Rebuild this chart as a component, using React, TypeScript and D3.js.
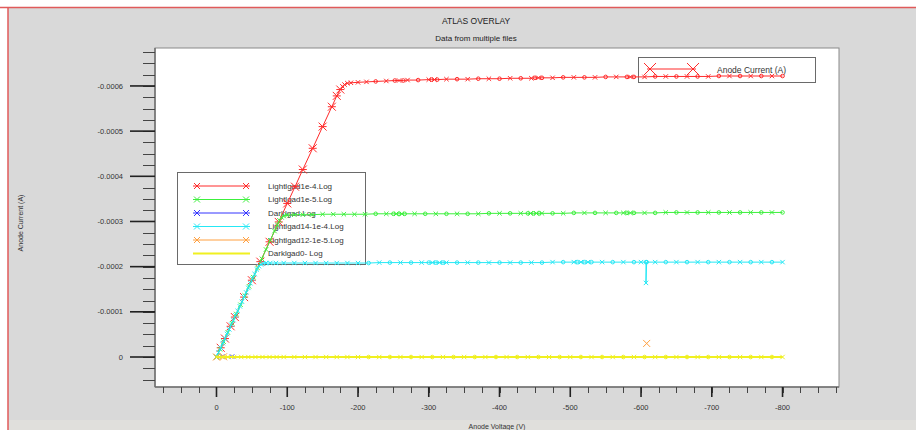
import React from 'react';
import * as d3 from 'd3';

const W = 916;
const H = 430;

// ---- data (Anode Voltage V, Anode Current A) ----
const redV = [0,-6,-12,-20,-26,-39,-50,-62,-75,-88,-100,-111,-122,-136,-150,-163,-170,-175,-178,-181,-185,-190,-200,-212,-225,-240,-252,-258,-264,-270,-285,-300,-304,-308,-312,-325,-340,-355,-370,-385,-400,-415,-430,-445,-450,-455,-460,-475,-490,-505,-520,-535,-550,-565,-580,-585,-590,-605,-620,-635,-650,-665,-680,-695,-710,-725,-740,-755,-770,-785,-800];
const redI = [0,-0.0000204,-0.0000408,-0.000068,-0.0000884,-0.0001326,-0.00017,-0.000211,-0.000255,-0.000299,
  -0.00034,-0.000377,-0.000415,-0.000462,-0.00051,-0.000554,-0.000578,-0.000592,-0.000599,-0.000603,
  -0.000606,-0.000607,-0.000608,-0.000609,-0.00061,-0.000611,-0.000612,-0.000612,-0.000612,-0.000613,
  -0.000613,-0.000614,-0.000614,-0.000614,-0.000614,-0.000615,-0.000615,-0.000615,-0.000616,-0.000616,
  -0.000616,-0.000617,-0.000617,-0.000617,-0.000618,-0.000618,-0.000618,-0.000618,-0.000619,-0.000619,
  -0.000619,-0.000619,-0.00062,-0.00062,-0.00062,-0.00062,-0.00062,-0.00062,-0.000621,-0.000621,
  -0.000621,-0.000621,-0.000621,-0.000621,-0.000622,-0.000622,-0.000622,-0.000622,-0.000622,-0.000622,
  -0.000622];

const greenV = [0,-5,-10,-16,-22,-28,-34,-40,-46,-52,-58,-64,-70,-76,-82,-86,-89,-92,-95,-100,-110,-122,-135,-150,-165,-180,-195,-210,-225,-240,-250,-254,-258,-262,-266,-280,-295,-310,-325,-340,-355,-370,-385,-400,-415,-430,-440,-444,-448,-452,-456,-460,-475,-490,-505,-520,-535,-550,-565,-575,-580,-585,-590,-605,-620,-635,-650,-665,-680,-695,-710,-725,-740,-755,-770,-785,-800];
const greenI = [0,-0.000017,-0.000034,-0.0000544,-0.0000748,-0.0000952,-0.0001156,-0.000136,-0.0001564,-0.0001768,
  -0.0001972,-0.0002176,-0.000238,-0.0002584,-0.0002788,-0.0002924,-0.0003026,-0.000309,-0.000312,-0.000314,
  -0.000315,-0.000315,-0.000315,-0.000316,-0.000316,-0.000316,-0.000316,-0.000316,-0.000317,-0.000317,
  -0.000317,-0.000317,-0.000317,-0.000317,-0.000317,-0.000317,-0.000317,-0.000317,-0.000317,-0.000317,
  -0.000317,-0.000317,-0.000318,-0.000318,-0.000318,-0.000318,-0.000318,-0.000318,-0.000318,-0.000318,
  -0.000318,-0.000318,-0.000318,-0.000318,-0.000319,-0.000319,-0.000319,-0.000319,-0.000319,-0.000319,
  -0.000319,-0.000319,-0.000319,-0.000319,-0.000319,-0.00032,-0.00032,-0.00032,-0.00032,-0.00032,
  -0.00032,-0.00032,-0.00032,-0.00032,-0.00032,-0.00032,-0.00032];

const blueV = [0,-8,-22];
const blueI = [0,-0.000001,-0.000001];

const cyanV = [0,-3,-6,-9,-12,-15,-18,-21,-24,-27,-30,-33,-36,-39,-42,-45,-48,-51,-54,-57,-60,-63,-66,-70,-76,-84,-95,-110,-125,-140,-155,-170,-185,-200,-215,-230,-245,-260,-275,-290,-300,-305,-310,-315,-320,-325,-340,-355,-370,-385,-400,-415,-430,-445,-460,-475,-490,-505,-510,-515,-520,-525,-530,-545,-560,-575,-590,-600,-607,-607,-608,-620,-635,-650,-665,-680,-695,-710,-725,-740,-755,-770,-785,-800];
const cyanI = [0,-0.0000102,-0.0000204,-0.0000306,-0.0000408,-0.000051,-0.0000612,-0.0000714,-0.0000816,-0.0000918,
  -0.000102,-0.0001122,-0.0001224,-0.0001326,-0.0001428,-0.000153,-0.0001632,-0.0001734,-0.0001836,-0.0001938,
  -0.000201,-0.000205,-0.000207,-0.000208,-0.000208,-0.000208,-0.000208,-0.000208,-0.000208,-0.000208,
  -0.000208,-0.000208,-0.000208,-0.000208,-0.000208,-0.000209,-0.000209,-0.000209,-0.000209,-0.000209,
  -0.000209,-0.000209,-0.000209,-0.000209,-0.000209,-0.000209,-0.000209,-0.000209,-0.000209,-0.000209,
  -0.000209,-0.000209,-0.000209,-0.000209,-0.000209,-0.00021,-0.00021,-0.00021,-0.00021,-0.00021,
  -0.00021,-0.00021,-0.00021,-0.00021,-0.00021,-0.00021,-0.00021,-0.00021,-0.00021,-0.000164,
  -0.00021,-0.00021,-0.00021,-0.00021,-0.00021,-0.00021,-0.00021,-0.00021,-0.00021,-0.00021,
  -0.00021,-0.00021,-0.00021,-0.00021];

const orangeV = [0,-10,null,-608];
const orangeI = [0,-0.0000005,null,-0.00003];

const yellowV = [0,-8,-16,-25,-35,-45,-55,-65,-75,-85,-95,-110,-125,-140,-155,-170,-185,-200,-215,-230,-245,-260,-275,-290,-305,-320,-335,-350,-365,-380,-395,-410,-425,-440,-455,-470,-485,-500,-515,-530,-545,-560,-575,-590,-605,-620,-635,-650,-665,-680,-695,-710,-725,-740,-755,-770,-785,-800];
const yellowI = [0,0,0,0,0,0,0,0,0,0,0,0,0,0,0,0,0,0,0,0,0,0,0,0,0,0,0,0,0,0,0,0,0,0,0,0,0,0,0,0,0,0,0,0,0,0,0,0,0,0,0,0,0,0,0,0,0,0];

const seriesNames = ['Lightlgad1e-4.Log','Lightlgad1e-5.Log','Darklgad.Log','Lightlgad14-1e-4.Log','Lightlgad12-1e-5.Log','Darklgad0- Log'];
const seriesColors = ['#ff2a2a','#3cf03c','#3535ff','#26e8f5','#ffa040','#f0f020'];

const yTickValues = [-0.0006,-0.0005,-0.0004,-0.0003,-0.0002,-0.0001,0];
const yTickLabels = ['-0.0006','-0.0005','-0.0004','-0.0003','-0.0002','-0.0001','0'];
const xTickValues = [0,-100,-200,-300,-400,-500,-600,-700,-800];
const xTickLabels = ['0','-100','-200','-300','-400','-500','-600','-700','-800'];

const FONT = '"Liberation Sans", Arial, sans-serif';

function xMark(cx: number, cy: number, s: number) {
  return `M${cx - s},${cy - s}L${cx + s},${cy + s}M${cx - s},${cy + s}L${cx + s},${cy - s}`;
}
function oMark(cx: number, cy: number, r: number) {
  return `M${cx - r},${cy}a${r},${r} 0 1,0 ${2 * r},0a${r},${r} 0 1,0 ${-2 * r},0`;
}

export default function App() {
  const left = 155, right = 839, top = 48, bottom = 387;
  const x = d3.scaleLinear().domain([86.9, -879.8]).range([left, right]);
  const y = d3.scaleLinear().domain([0.0000664, -0.000684]).range([bottom, top]);

  const raw = [
    [redV, redI], [greenV, greenI], [blueV, blueI], [cyanV, cyanI], [orangeV, orangeI], [yellowV, yellowI],
  ];
  const series = raw.map(([vs, is], k) => ({
    name: seriesNames[k],
    color: seriesColors[k],
    pts: (vs as (number | null)[]).slice(0, Math.min(vs.length, is.length)).map((v, i) => [v, (is as (number | null)[])[i]] as [number | null, number | null]),
  }));

  const line = d3.line<[number | null, number | null]>()
    .defined(d => d[0] != null && d[1] != null)
    .x(d => x(d[0] as number))
    .y(d => y(d[1] as number));

  const yMinor = d3.range(-27, 3).map(k => k * 0.000025).filter(v => y(v) >= top && y(v) <= bottom);
  const xMinor = d3.range(-35, 4).map(k => k * 25).filter(v => x(v) >= left && x(v) <= right + 0.5);

  const legRowY = (i: number) => 186 + i * 13.5;
  const lineW = (k: number) => (k === 5 ? 2 : 1);

  return (
    <svg width={W} height={H} style={{ position: 'absolute', left: 0, top: 0, display: 'block' }} fontFamily={FONT}>
      <rect x={0} y={0} width={W} height={H} fill="#ffffff" />
      <rect x={8} y={8} width={W - 8} height={H - 8} fill="#d9d9d9" />
      <rect x={8} y={420} width={W - 8} height={10} fill="#e0dfdc" />
      <line x1={0} x2={W} y1={7.5} y2={7.5} stroke="#e05a5a" strokeWidth={1.5} />
      <line x1={8} x2={8} y1={7} y2={H} stroke="#e05a5a" strokeWidth={1.5} />

      <text x={476} y={24} textAnchor="middle" fontSize={8.5} fill="#222">ATLAS OVERLAY</text>
      <text x={476} y={41} textAnchor="middle" fontSize={8} fill="#222">Data from multiple files</text>

      {/* plot area */}
      <rect x={left} y={top} width={right - left} height={bottom - top} fill="#ffffff" stroke="#8a8a8a" strokeWidth={1} />
      <line x1={left} x2={left} y1={top} y2={bottom} stroke="#707070" strokeWidth={1.5} />
      <line x1={left} x2={right} y1={bottom} y2={bottom} stroke="#707070" strokeWidth={1.5} />

      {/* y axis ticks */}
      {yMinor.map((v, i) => (
        <line key={'ym' + i} x1={left - 12} x2={left} y1={Math.round(y(v)) + 0.5} y2={Math.round(y(v)) + 0.5} stroke="#444" strokeWidth={1} />
      ))}
      {yTickValues.map((v, i) => (
        <g key={'yt' + i}>
          <line x1={left - 25} x2={left} y1={y(v)} y2={y(v)} stroke="#222" strokeWidth={1.6} />
          <text x={123} y={y(v)} dy="0.35em" textAnchor="end" fontSize={7.5} fill="#333">{yTickLabels[i]}</text>
        </g>
      ))}

      {/* x axis ticks */}
      {xMinor.map((v, i) => (
        <line key={'xm' + i} x1={Math.round(x(v)) + 0.5} x2={Math.round(x(v)) + 0.5} y1={bottom} y2={bottom + 6} stroke="#444" strokeWidth={1} />
      ))}
      {xTickValues.map((v, i) => (
        <g key={'xt' + i}>
          <line x1={x(v)} x2={x(v)} y1={bottom} y2={bottom + 10} stroke="#222" strokeWidth={1.6} />
          <text x={x(v)} y={410} textAnchor="middle" fontSize={7.5} fill="#333">{xTickLabels[i]}</text>
        </g>
      ))}

      <text transform={`translate(23,223) rotate(-90)`} textAnchor="middle" fontSize={7} fill="#333">Anode Current (A)</text>
      <text x={(left + right) / 2} y={429} textAnchor="middle" fontSize={7} fill="#333">Anode Voltage (V)</text>

      {/* legends (drawn under the data) */}
      <rect x={177.5} y={172.5} width={188} height={92} fill="#ffffff" stroke="#6a6a6a" strokeWidth={1} />
      {series.map((s, i) => (
        <g key={'lg' + i}>
          <line x1={193} x2={250} y1={legRowY(i)} y2={legRowY(i)} stroke={s.color} strokeWidth={lineW(i)} />
          {i < 5 && <path d={xMark(197, legRowY(i), 3) + xMark(246, legRowY(i), 3)} stroke={s.color} strokeWidth={1} fill="none" />}
          <text x={268} y={legRowY(i)} dy="0.35em" fontSize={8} fill="#333">{s.name}</text>
        </g>
      ))}

      <rect x={638.5} y={57.5} width={177} height={25} fill="#ffffff" stroke="#6a6a6a" strokeWidth={1} />
      <line x1={647} x2={696} y1={69} y2={69} stroke="#ff2a2a" strokeWidth={1} />
      <path d={xMark(650, 69, 6) + xMark(693, 69, 6)} stroke="#ff2a2a" strokeWidth={1} fill="none" />
      <text x={717} y={70} dy="0.35em" fontSize={8.5} fill="#333">Anode Current (A)</text>

      {/* data */}
      <g clipPath="url(#plotclip)">
        {series.map((s, k) => (
          <g key={'s' + k}>
            <path d={line(s.pts) || ''} fill="none" stroke={s.color} strokeWidth={lineW(k)} />
            <path
              d={s.pts.filter(p => p[0] != null && p[1] != null).map((p, i) => {
                const v = p[0] as number;
                const big = k === 0 && v < -5 && v > -178;
                if (big) return xMark(x(v), y(p[1] as number), 4) + `M${x(v) - 4},${y(p[1] as number)}h8`;
                if (k === 4) return xMark(x(v), y(p[1] as number), 3.5);
                const plateau = v < -200;
                if (plateau && i % 2 === 0) return oMark(x(v), y(p[1] as number), 1.8);
                return xMark(x(v), y(p[1] as number), 2.2);
              }).join('')}
              fill="none" stroke={s.color} strokeWidth={1}
            />
          </g>
        ))}
      </g>
      <defs>
        <clipPath id="plotclip">
          <rect x={left} y={top} width={right - left} height={bottom - top} />
        </clipPath>
      </defs>
    </svg>
  );
}
